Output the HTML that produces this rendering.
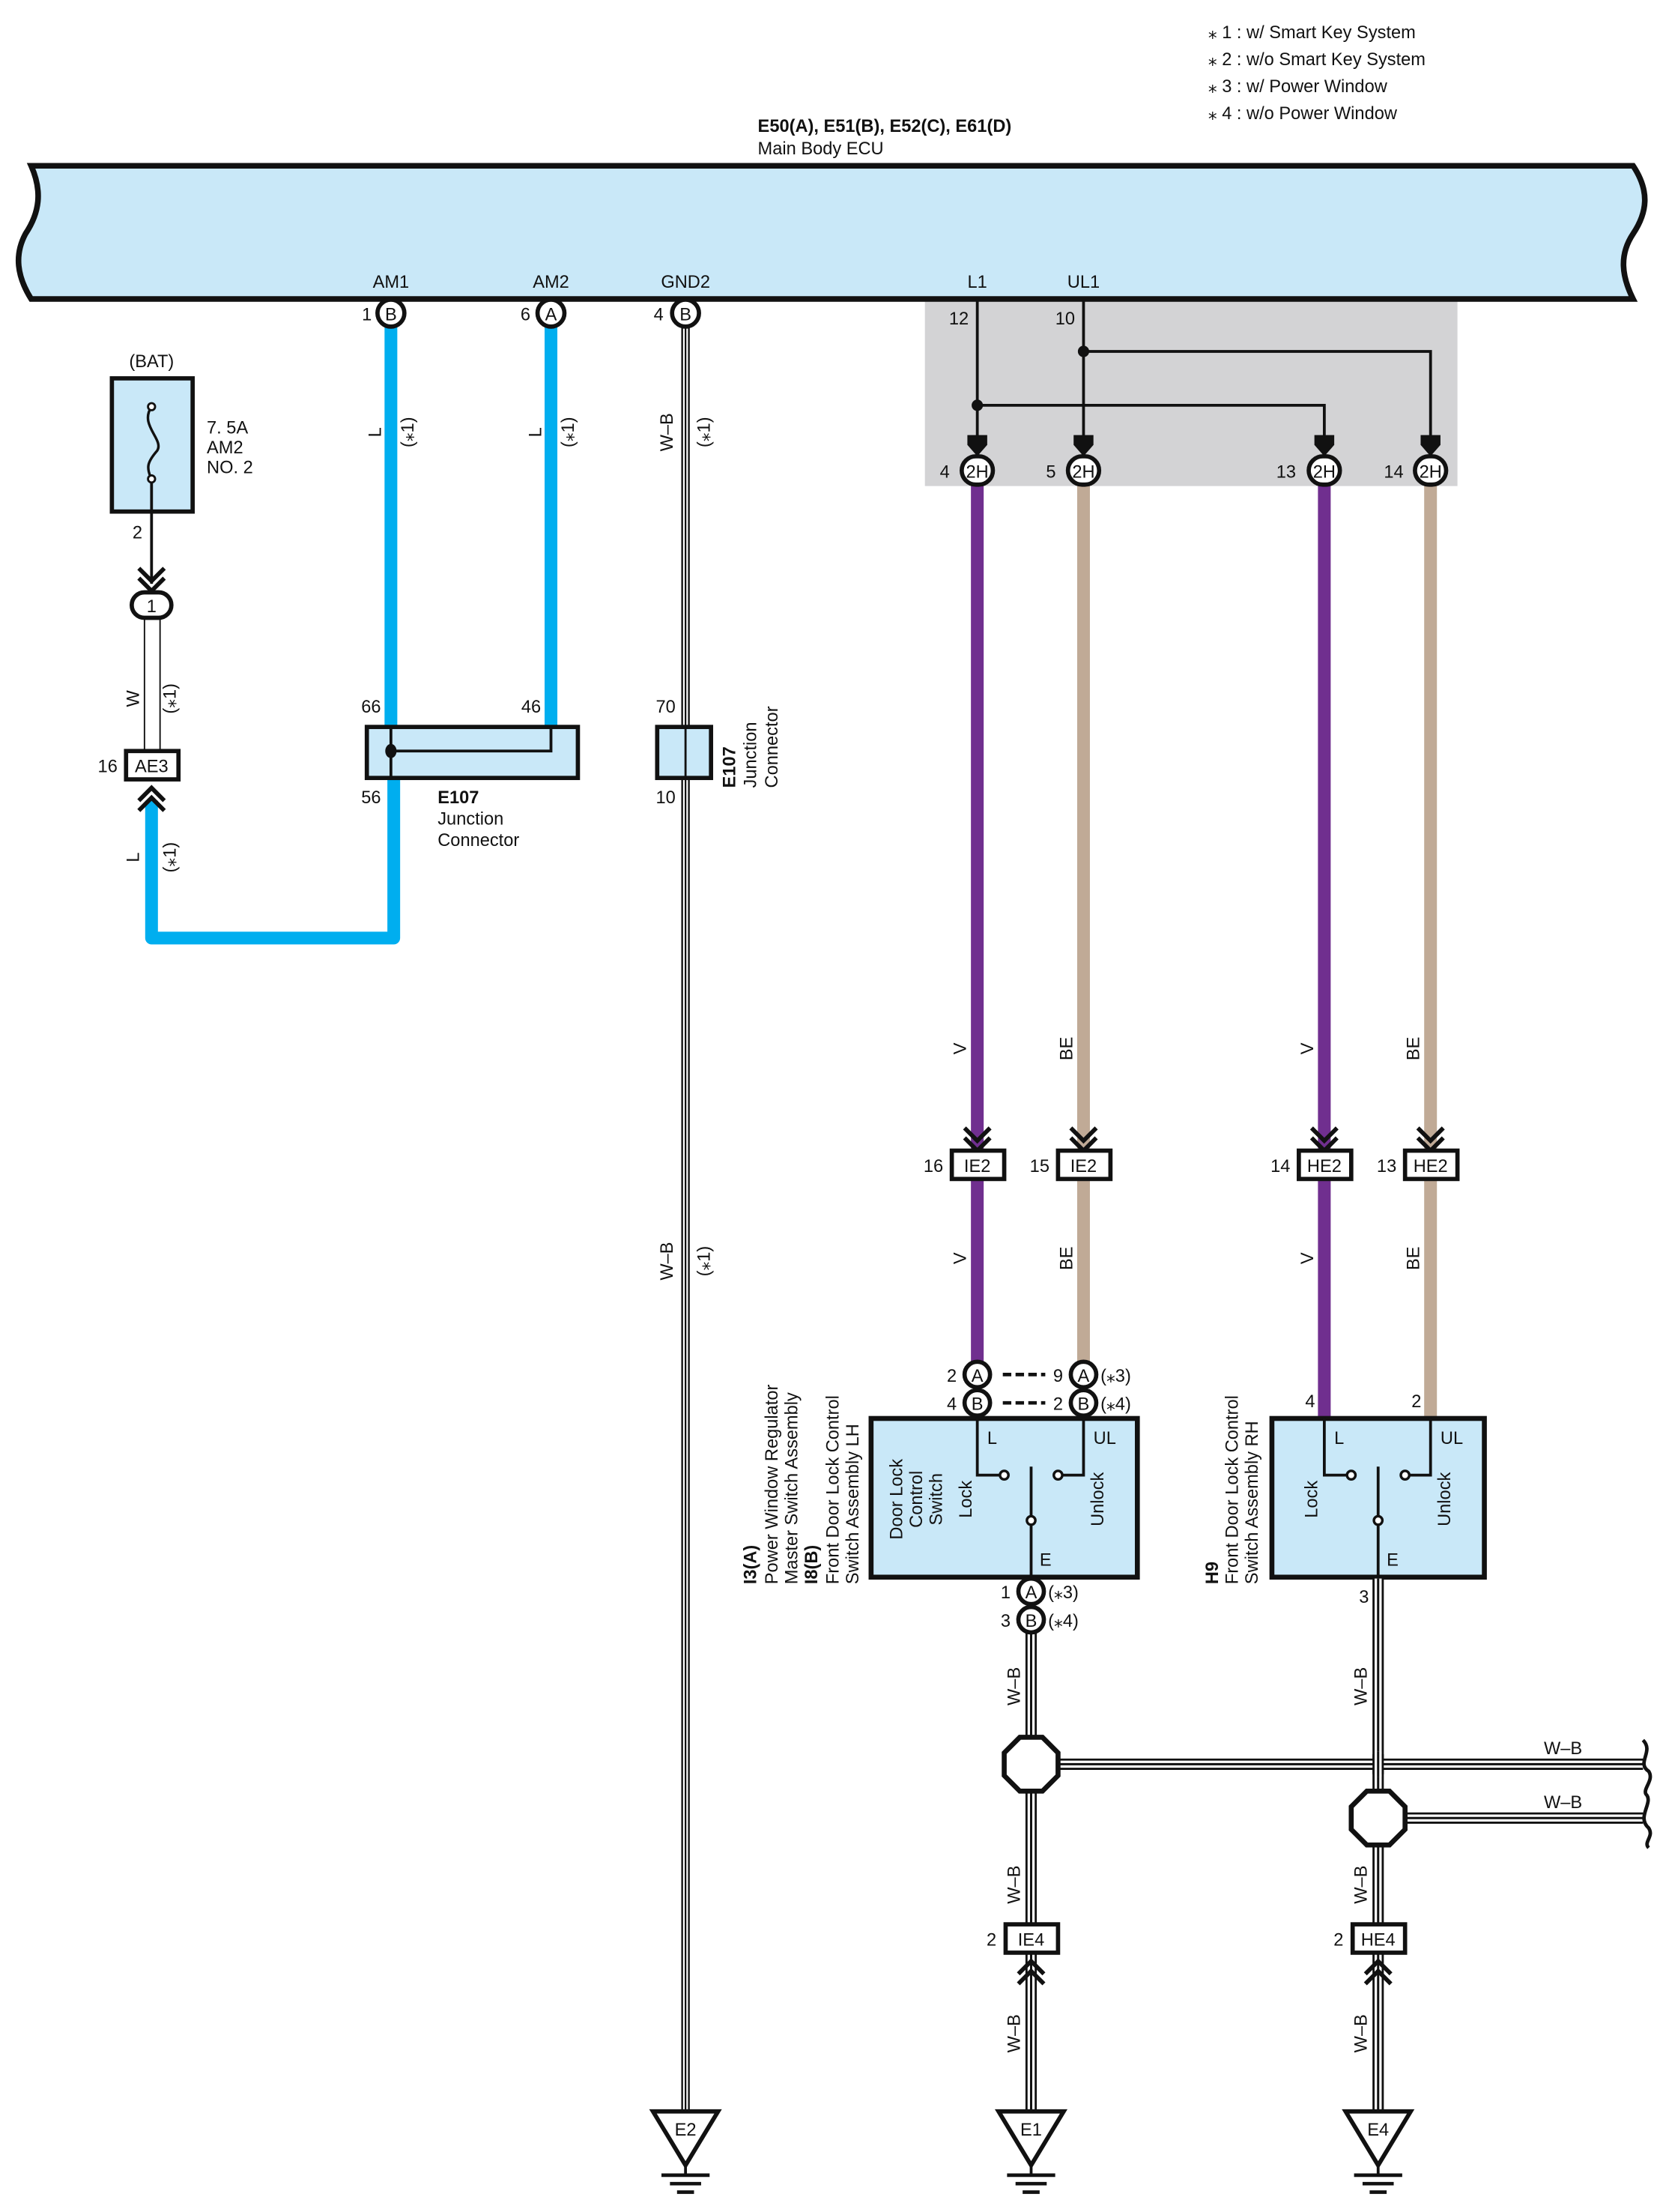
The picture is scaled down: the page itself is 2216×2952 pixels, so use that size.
<!DOCTYPE html>
<html><head><meta charset="utf-8"><style>
html,body{margin:0;padding:0;background:#fff}
svg{display:block}
text{font-family:"Liberation Sans",sans-serif;font-size:12.5px;fill:#111}
.b{font-weight:bold}
</style></head><body>
<svg width="2216" height="2952" viewBox="0 0 1172 1561" preserveAspectRatio="none" xmlns="http://www.w3.org/2000/svg">
<defs>
<g id="chev" fill="none" stroke="#111" stroke-width="3"><polyline points="-9,-14 0,-5 9,-14"/><polyline points="-9,-7 0,2 9,-7"/></g>
<g id="chevU" fill="none" stroke="#111" stroke-width="3"><polyline points="-9,14 0,5 9,14"/><polyline points="-9,7 0,-2 9,7"/></g>
<g id="gnd"><polygon points="-23,0 23,0 0,38" fill="#fff" stroke="#111" stroke-width="3"/><line x1="-17" y1="45" x2="17" y2="45" stroke="#111" stroke-width="2.5"/><line x1="-11" y1="51" x2="11" y2="51" stroke="#111" stroke-width="2.5"/><line x1="-6" y1="57" x2="6" y2="57" stroke="#111" stroke-width="2.5"/><line x1="0" y1="38" x2="0" y2="45" stroke="#111" stroke-width="2"/></g>
</defs>
<!-- notes -->
<text x="853" y="27">⁎ 1 : w/ Smart Key System</text>
<text x="853" y="46">⁎ 2 : w/o Smart Key System</text>
<text x="853" y="65">⁎ 3 : w/ Power Window</text>
<text x="853" y="84">⁎ 4 : w/o Power Window</text>
<text x="535" y="93" class="b">E50(A), E51(B), E52(C), E61(D)</text>
<text x="535" y="109">Main Body ECU</text>
<!-- gray area -->
<rect x="653" y="212" width="376" height="131" fill="#d3d3d5"/>
<!-- ECU -->
<path d="M22,117 L1153,117 C1165,135 1163,150 1153,165 C1143,180 1145,195 1153,211 L22,211 C12,195 10,180 18,165 C28,150 30,135 22,117 Z" fill="#c9e8f8" stroke="#111" stroke-width="4"/>
<text x="276" y="203" text-anchor="middle">AM1</text>
<text x="389" y="203" text-anchor="middle">AM2</text>
<text x="484" y="203" text-anchor="middle">GND2</text>
<text x="690" y="203" text-anchor="middle">L1</text>
<text x="765" y="203" text-anchor="middle">UL1</text>
<!-- blue wires -->
<g stroke="#00aeef" stroke-width="9" fill="none" stroke-linejoin="round">
<line x1="276" y1="228" x2="276" y2="514"/>
<line x1="389" y1="228" x2="389" y2="514"/>
<polyline points="107,565 107,662 278,662 278,548"/>
</g>
<!-- GND2 wire -->
<g fill="none">
<line x1="484" y1="228" x2="484" y2="1492" stroke="#111" stroke-width="6"/>
<line x1="484" y1="228" x2="484" y2="1492" stroke="#fff" stroke-width="3.5"/>
<line x1="484" y1="228" x2="484" y2="1492" stroke="#111" stroke-width="1.2"/>
</g>
<!-- ECU pins -->
<g stroke="#111" stroke-width="3" fill="#fff">
<circle cx="276" cy="221" r="9.5"/><circle cx="389" cy="221" r="9.5"/><circle cx="484" cy="221" r="9.5"/>
</g>
<text x="276" y="226" text-anchor="middle">B</text><text x="389" y="226" text-anchor="middle">A</text><text x="484" y="226" text-anchor="middle">B</text>
<text x="259" y="226" text-anchor="middle">1</text><text x="371" y="226" text-anchor="middle">6</text><text x="465" y="226" text-anchor="middle">4</text>
<!-- wire labels rotated -->
<g>
<text transform="translate(269,305) rotate(-90)" text-anchor="middle">L</text>
<text transform="translate(292,305) rotate(-90)" text-anchor="middle">(⁎1)</text>
<text transform="translate(382,305) rotate(-90)" text-anchor="middle">L</text>
<text transform="translate(405,305) rotate(-90)" text-anchor="middle">(⁎1)</text>
<text transform="translate(475,305) rotate(-90)" text-anchor="middle">W–B</text>
<text transform="translate(501,305) rotate(-90)" text-anchor="middle">(⁎1)</text>
<text transform="translate(475,890) rotate(-90)" text-anchor="middle">W–B</text>
<text transform="translate(501,890) rotate(-90)" text-anchor="middle">(⁎1)</text>
<text transform="translate(98,493) rotate(-90)" text-anchor="middle">W</text>
<text transform="translate(124,493) rotate(-90)" text-anchor="middle">(⁎1)</text>
<text transform="translate(98,605) rotate(-90)" text-anchor="middle">L</text>
<text transform="translate(124,605) rotate(-90)" text-anchor="middle">(⁎1)</text>
</g>
<!-- fuse -->
<text x="107" y="259" text-anchor="middle">(BAT)</text>
<rect x="79" y="267" width="57" height="94" fill="#c9e8f8" stroke="#111" stroke-width="3"/>
<path d="M107,287 C98,300 116,310 111,318 C104,326 103,330 107,338" fill="none" stroke="#111" stroke-width="1.8"/>
<circle cx="107" cy="287" r="2.5" fill="#fff" stroke="#111" stroke-width="1.5"/>
<circle cx="107" cy="338" r="2.5" fill="#fff" stroke="#111" stroke-width="1.5"/>
<text x="146" y="306">7. 5A</text><text x="146" y="320">AM2</text><text x="146" y="334">NO. 2</text>
<line x1="107" y1="340" x2="107" y2="412" stroke="#111" stroke-width="2"/>
<text x="97" y="380" text-anchor="middle">2</text>
<use href="#chev" x="107" y="415"/>
<rect x="93" y="418" width="28" height="18" rx="9" fill="#fff" stroke="#111" stroke-width="3"/>
<text x="107" y="432" text-anchor="middle">1</text>
<line x1="102" y1="436" x2="102" y2="530" stroke="#111" stroke-width="1"/>
<line x1="113" y1="436" x2="113" y2="530" stroke="#111" stroke-width="1"/>
<rect x="89" y="530" width="37" height="20" fill="#fff" stroke="#111" stroke-width="3"/>
<text x="107" y="545" text-anchor="middle">AE3</text>
<text x="76" y="545" text-anchor="middle">16</text>
<use href="#chevU" x="107" y="558"/>
<!-- E107 big -->
<rect x="259" y="513" width="149" height="36" fill="#c9e8f8" stroke="#111" stroke-width="3"/>
<polyline points="389,514 389,530 276,530" fill="none" stroke="#111" stroke-width="2"/>
<line x1="276" y1="514" x2="276" y2="549" stroke="#111" stroke-width="2"/>
<ellipse cx="276" cy="530" rx="4" ry="5" fill="#111"/>
<text x="262" y="503" text-anchor="middle">66</text><text x="375" y="503" text-anchor="middle">46</text><text x="262" y="567" text-anchor="middle">56</text>
<text x="309" y="567" class="b">E107</text><text x="309" y="582">Junction</text><text x="309" y="597">Connector</text>
<!-- E107 small -->
<rect x="464" y="513" width="38" height="36" fill="#c9e8f8" stroke="#111" stroke-width="3"/>
<line x1="484" y1="513" x2="484" y2="549" stroke="#111" stroke-width="1.5"/>
<text x="470" y="503" text-anchor="middle">70</text><text x="470" y="567" text-anchor="middle">10</text>
<text transform="translate(519,556) rotate(-90)" class="b">E107</text>
<text transform="translate(534,556) rotate(-90)">Junction</text>
<text transform="translate(549,556) rotate(-90)">Connector</text>
<!-- gray area wiring -->
<g stroke="#111" stroke-width="2" fill="none">
<line x1="690" y1="211" x2="690" y2="312"/>
<line x1="765" y1="211" x2="765" y2="312"/>
<polyline points="690,286 935,286 935,312"/>
<polyline points="765,248 1010,248 1010,312"/>
</g>
<circle cx="690" cy="286" r="4" fill="#111"/><circle cx="765" cy="248" r="4" fill="#111"/>
<text x="677" y="229" text-anchor="middle">12</text><text x="752" y="229" text-anchor="middle">10</text>
<g fill="#111">
<polygon points="683,307 697,307 697,314 690,322 683,314"/>
<polygon points="758,307 772,307 772,314 765,322 758,314"/>
<polygon points="928,307 942,307 942,314 935,322 928,314"/>
<polygon points="1003,307 1017,307 1017,314 1010,322 1003,314"/>
</g>
<!-- colored wires -->
<g stroke-width="9">
<line x1="690" y1="340" x2="690" y2="962" stroke="#702f8f"/>
<line x1="765" y1="340" x2="765" y2="962" stroke="#c0aa96"/>
<line x1="935" y1="340" x2="935" y2="1001" stroke="#702f8f"/>
<line x1="1010" y1="340" x2="1010" y2="1001" stroke="#c0aa96"/>
</g>
<!-- 2H pills -->
<g stroke="#111" stroke-width="3" fill="#fff">
<rect x="679" y="322" width="22" height="20" rx="10"/><rect x="754" y="322" width="22" height="20" rx="10"/>
<rect x="924" y="322" width="22" height="20" rx="10"/><rect x="999" y="322" width="22" height="20" rx="10"/>
</g>
<g text-anchor="middle">
<text x="690" y="337">2H</text><text x="765" y="337">2H</text><text x="935" y="337">2H</text><text x="1010" y="337">2H</text>
<text x="667" y="337">4</text><text x="742" y="337">5</text><text x="908" y="337">13</text><text x="984" y="337">14</text>
</g>
<!-- V/BE labels -->
<g text-anchor="middle">
<text transform="translate(682,740) rotate(-90)">V</text>
<text transform="translate(757,740) rotate(-90)">BE</text>
<text transform="translate(927,740) rotate(-90)">V</text>
<text transform="translate(1002,740) rotate(-90)">BE</text>
<text transform="translate(682,888) rotate(-90)">V</text>
<text transform="translate(757,888) rotate(-90)">BE</text>
<text transform="translate(927,888) rotate(-90)">V</text>
<text transform="translate(1002,888) rotate(-90)">BE</text>
</g>
<!-- IE2/HE2 -->
<use href="#chev" x="690" y="810"/><use href="#chev" x="765" y="810"/><use href="#chev" x="935" y="810"/><use href="#chev" x="1010" y="810"/>
<g stroke="#111" stroke-width="3" fill="#fff">
<rect x="672" y="812" width="37" height="20"/><rect x="747" y="812" width="37" height="20"/>
<rect x="917" y="812" width="37" height="20"/><rect x="992" y="812" width="37" height="20"/>
</g>
<g text-anchor="middle">
<text x="690" y="827">IE2</text><text x="765" y="827">IE2</text><text x="935" y="827">HE2</text><text x="1010" y="827">HE2</text>
<text x="659" y="827">16</text><text x="734" y="827">15</text><text x="904" y="827">14</text><text x="979" y="827">13</text>
</g>
<!-- LH pins -->
<g stroke="#111" stroke-width="3" fill="#fff">
<circle cx="690" cy="970" r="9"/><circle cx="690" cy="990" r="9"/><circle cx="765" cy="970" r="9"/><circle cx="765" cy="990" r="9"/>
</g>
<g text-anchor="middle">
<text x="690" y="975">A</text><text x="690" y="995">B</text><text x="765" y="975">A</text><text x="765" y="995">B</text>
<text x="672" y="975">2</text><text x="672" y="995">4</text><text x="747" y="975">9</text><text x="747" y="995">2</text>
</g>
<text x="777" y="975">(⁎3)</text><text x="777" y="995">(⁎4)</text>
<g stroke="#111" stroke-width="2.5" stroke-dasharray="6,3"><line x1="708" y1="970" x2="738" y2="970"/><line x1="708" y1="990" x2="738" y2="990"/></g>
<!-- LH box -->
<rect x="615" y="1001" width="188" height="112" fill="#c9e8f8" stroke="#111" stroke-width="3.5"/>
<g stroke="#111" stroke-width="2" fill="none">
<polyline points="690,1000 690,1041 706,1041"/><polyline points="765,1000 765,1041 750,1041"/>
<line x1="728" y1="1035" x2="728" y2="1114"/>
</g>
<g stroke="#111" stroke-width="1.8" fill="#fff"><circle cx="709" cy="1041" r="3"/><circle cx="747" cy="1041" r="3"/><circle cx="728" cy="1073" r="3"/></g>
<text x="697" y="1019">L</text><text x="772" y="1019">UL</text><text x="734" y="1105">E</text>
<g text-anchor="middle">
<text transform="translate(686,1058) rotate(-90)">Lock</text>
<text transform="translate(779,1058) rotate(-90)">Unlock</text>
<text transform="translate(637,1058) rotate(-90)">Door Lock</text>
<text transform="translate(651,1058) rotate(-90)">Control</text>
<text transform="translate(665,1058) rotate(-90)">Switch</text>
</g>
<g>
<text transform="translate(534,1118) rotate(-90)" class="b">I3(A)</text>
<text transform="translate(549,1118) rotate(-90)">Power Window Regulator</text>
<text transform="translate(563,1118) rotate(-90)">Master Switch Assembly</text>
<text transform="translate(577,1118) rotate(-90)" class="b">I8(B)</text>
<text transform="translate(592,1118) rotate(-90)">Front Door Lock Control</text>
<text transform="translate(606,1118) rotate(-90)">Switch Assembly LH</text>
<text transform="translate(860,1118) rotate(-90)" class="b">H9</text>
<text transform="translate(874,1118) rotate(-90)">Front Door Lock Control</text>
<text transform="translate(888,1118) rotate(-90)">Switch Assembly RH</text>
</g>
<!-- RH box -->
<text x="925" y="993" text-anchor="middle">4</text><text x="1000" y="993" text-anchor="middle">2</text>
<rect x="898" y="1001" width="150" height="112" fill="#c9e8f8" stroke="#111" stroke-width="3.5"/>
<g stroke="#111" stroke-width="2" fill="none">
<polyline points="935,1000 935,1041 951,1041"/><polyline points="1010,1000 1010,1041 995,1041"/>
<line x1="973" y1="1035" x2="973" y2="1114"/>
</g>
<g stroke="#111" stroke-width="1.8" fill="#fff"><circle cx="954" cy="1041" r="3"/><circle cx="992" cy="1041" r="3"/><circle cx="973" cy="1073" r="3"/></g>
<text x="942" y="1019">L</text><text x="1017" y="1019">UL</text><text x="979" y="1105">E</text>
<g text-anchor="middle">
<text transform="translate(930,1058) rotate(-90)">Lock</text>
<text transform="translate(1024,1058) rotate(-90)">Unlock</text>
</g>
<!-- W-B double wires lower -->
<g fill="none">
<g stroke="#111" stroke-width="8">
<line x1="728" y1="1150" x2="728" y2="1492"/><line x1="973" y1="1114" x2="973" y2="1492"/>
<line x1="740" y1="1245" x2="1160" y2="1245"/><line x1="985" y1="1283" x2="1160" y2="1283"/>
</g>
<g stroke="#fff" stroke-width="5">
<line x1="728" y1="1150" x2="728" y2="1492"/><line x1="973" y1="1114" x2="973" y2="1492"/>
<line x1="740" y1="1245" x2="1160" y2="1245"/><line x1="985" y1="1283" x2="1160" y2="1283"/>
</g>
<g stroke="#111" stroke-width="1.6">
<line x1="728" y1="1150" x2="728" y2="1492"/><line x1="973" y1="1114" x2="973" y2="1492"/>
<line x1="740" y1="1245" x2="1160" y2="1245"/><line x1="985" y1="1283" x2="1160" y2="1283"/>
</g>
</g>
<!-- crossing redraw of vertical over horizontal at 973 -->
<g><line x1="973" y1="1238" x2="973" y2="1252" stroke="#111" stroke-width="8"/><line x1="973" y1="1236" x2="973" y2="1254" stroke="#fff" stroke-width="5"/><line x1="973" y1="1236" x2="973" y2="1254" stroke="#111" stroke-width="1.6"/></g>
<!-- wavy ends -->
<path d="M1160,1228 C1168,1236 1155,1244 1164,1250 C1168,1256 1160,1262 1162,1266 C1168,1272 1155,1282 1164,1290 C1168,1296 1160,1300 1164,1304" fill="none" stroke="#111" stroke-width="2.5"/>
<text x="1090" y="1238">W–B</text><text x="1090" y="1276">W–B</text>
<!-- LH bottom pins -->
<g stroke="#111" stroke-width="3" fill="#fff"><circle cx="728" cy="1123" r="9"/><circle cx="728" cy="1143" r="9"/></g>
<text x="728" y="1128" text-anchor="middle">A</text><text x="728" y="1148" text-anchor="middle">B</text>
<text x="710" y="1128" text-anchor="middle">1</text><text x="710" y="1148" text-anchor="middle">3</text>
<text x="740" y="1128">(⁎3)</text><text x="740" y="1148">(⁎4)</text>
<text x="963" y="1131" text-anchor="middle">3</text>
<!-- octagons -->
<polygon points="720,1226 736,1226 747,1237 747,1253 736,1264 720,1264 709,1253 709,1237" fill="#fff" stroke="#111" stroke-width="3.5"/>
<polygon points="965,1264 981,1264 992,1275 992,1291 981,1302 965,1302 954,1291 954,1275" fill="#fff" stroke="#111" stroke-width="3.5"/>
<g text-anchor="middle">
<text transform="translate(720,1190) rotate(-90)">W–B</text>
<text transform="translate(965,1190) rotate(-90)">W–B</text>
<text transform="translate(720,1330) rotate(-90)">W–B</text>
<text transform="translate(965,1330) rotate(-90)">W–B</text>
<text transform="translate(720,1435) rotate(-90)">W–B</text>
<text transform="translate(965,1435) rotate(-90)">W–B</text>
</g>
<!-- IE4/HE4 -->
<g stroke="#111" stroke-width="3" fill="#fff"><rect x="710" y="1358" width="37" height="20"/><rect x="955" y="1358" width="37" height="20"/></g>
<text x="728" y="1373" text-anchor="middle">IE4</text><text x="973" y="1373" text-anchor="middle">HE4</text>
<text x="700" y="1373" text-anchor="middle">2</text><text x="945" y="1373" text-anchor="middle">2</text>
<use href="#chevU" x="728" y="1386"/><use href="#chevU" x="973" y="1386"/>
<!-- grounds -->
<use href="#gnd" x="484" y="1490"/><use href="#gnd" x="728" y="1490"/><use href="#gnd" x="973" y="1490"/>
<g text-anchor="middle"><text x="484" y="1507">E2</text><text x="728" y="1507">E1</text><text x="973" y="1507">E4</text></g>
</svg>
</body></html>
